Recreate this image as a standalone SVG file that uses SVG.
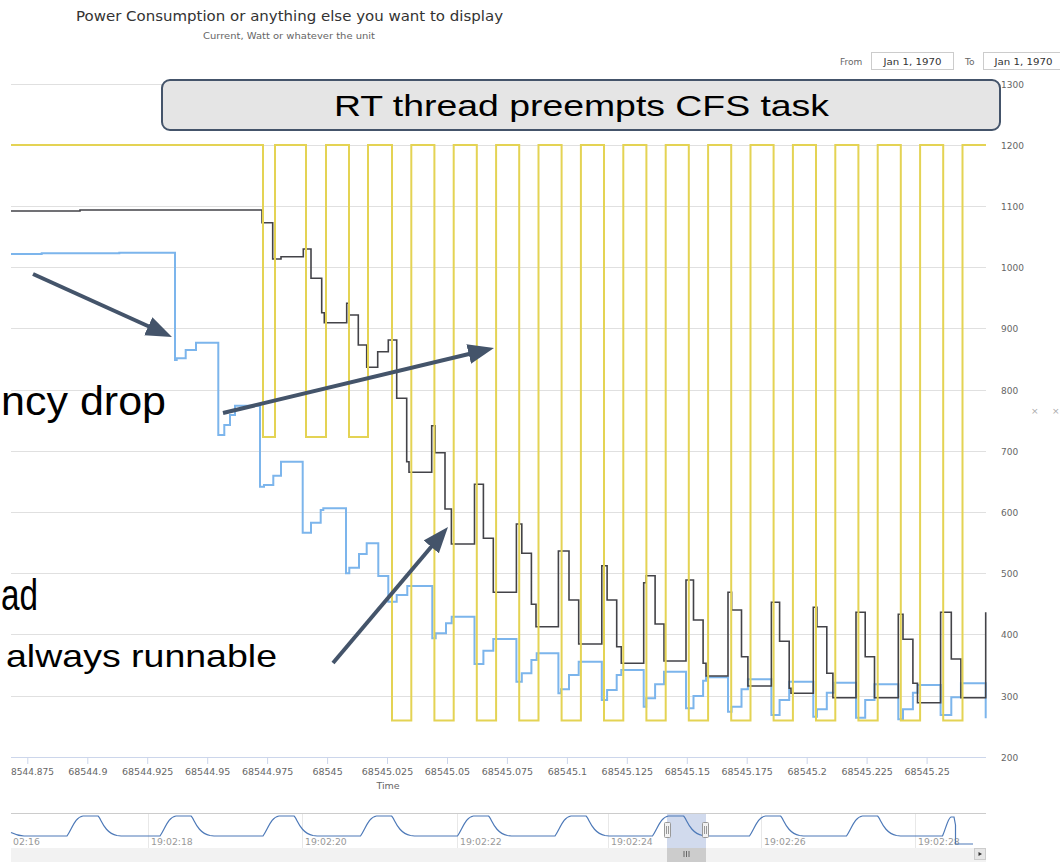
<svg xmlns="http://www.w3.org/2000/svg" width="1060" height="862" viewBox="0 0 1060 862">
  <style>
    .ui{font-family:"DejaVu Sans",Verdana,sans-serif;fill:#666}
    .title{font-size:14.5px;fill:#333}
    .subtitle{font-size:9.2px}
    .xl{font-size:9.5px;text-anchor:middle}
    .yl{font-size:9px}
    .nl{font-size:9.3px;fill:#999}
    .grid{stroke:#e0e0e0;stroke-width:1}
    .navgrid{stroke:#e8e8e8;stroke-width:1}
    .tick{stroke:#ccd6eb;stroke-width:1}
    .series{fill:none;stroke-width:2;stroke-linejoin:miter}
    .s-little{stroke:#7cb5ec}
    .s-big{stroke:#434348;stroke-width:1.6}
    .s-rt{stroke:#e4d354}
    .slide{font-family:"Liberation Sans",Arial,sans-serif;fill:#000}
    .arrow{fill:none;stroke:#44546a;stroke-width:4;marker-end:url(#head)}
    .inputbox{fill:#fff;stroke:#ccc;stroke-width:1}
    .handle{fill:#f2f2f2;stroke:#999;stroke-width:1}
  </style>
  <defs>
    <marker id="head" markerUnits="userSpaceOnUse" markerWidth="26" markerHeight="20" refX="11" refY="10" orient="auto">
      <path d="M0,0 L26,10 L0,20 z" fill="#44546a"/>
    </marker>
  </defs>

  <rect width="1060" height="862" fill="#fff"/>

  <!-- chart title -->
  <g id="title" class="ui">
    <text class="title" x="76" y="21" textLength="427" lengthAdjust="spacingAndGlyphs">Power Consumption or anything else you want to display</text>
    <text class="subtitle" x="203" y="39" textLength="172" lengthAdjust="spacingAndGlyphs">Current, Watt or whatever the unit</text>
  </g>

  <!-- range selector inputs -->
  <g id="range-selector" class="ui" font-size="9px">
    <text x="840" y="64.5">From</text>
    <rect class="inputbox" x="871.5" y="52.5" width="82" height="17"/>
    <text x="912.5" y="64.5" text-anchor="middle" textLength="58" lengthAdjust="spacingAndGlyphs" fill="#333">Jan 1, 1970</text>
    <text x="965" y="64.5">To</text>
    <rect class="inputbox" x="983.5" y="52.5" width="82" height="17"/>
    <text x="1023.5" y="64.5" text-anchor="middle" textLength="58" lengthAdjust="spacingAndGlyphs" fill="#333">Jan 1, 1970</text>
  </g>

  <!-- horizontal grid -->
  <g id="grid">
    <line class="grid" x1="11" y1="84.5" x2="986" y2="84.5"/>
    <line class="grid" x1="11" y1="145.5" x2="986" y2="145.5"/>
    <line class="grid" x1="11" y1="206.5" x2="986" y2="206.5"/>
    <line class="grid" x1="11" y1="267.5" x2="986" y2="267.5"/>
    <line class="grid" x1="11" y1="328.5" x2="986" y2="328.5"/>
    <line class="grid" x1="11" y1="390.5" x2="986" y2="390.5"/>
    <line class="grid" x1="11" y1="451.5" x2="986" y2="451.5"/>
    <line class="grid" x1="11" y1="512.5" x2="986" y2="512.5"/>
    <line class="grid" x1="11" y1="573.5" x2="986" y2="573.5"/>
    <line class="grid" x1="11" y1="634.5" x2="986" y2="634.5"/>
    <line class="grid" x1="11" y1="696.5" x2="986" y2="696.5"/>
  </g>

  <!-- value axis -->
  <g id="y-axis" class="ui yl">
    <text x="1001" y="87.5">1300</text>
    <text x="1001" y="148.5">1200</text>
    <text x="1001" y="209.5">1100</text>
    <text x="1001" y="270.5">1000</text>
    <text x="1001" y="331.5">900</text>
    <text x="1001" y="393.5">800</text>
    <text x="1001" y="454.5">700</text>
    <text x="1001" y="515.5">600</text>
    <text x="1001" y="576.5">500</text>
    <text x="1001" y="637.5">400</text>
    <text x="1001" y="699.5">300</text>
    <text x="1001" y="760.5">200</text>
    <text x="1031" y="414" fill="#aaa">×</text>
    <text x="1052" y="414" fill="#aaa">×</text>
  </g>

  <!-- time axis -->
  <g id="x-axis" class="ui">
    <line x1="11" y1="757.5" x2="986" y2="757.5" stroke="#ccd6eb"/>
    <g class="tick">
      <line x1="27.8" y1="757.5" x2="27.8" y2="764"/>
      <line x1="87.8" y1="757.5" x2="87.8" y2="764"/>
      <line x1="147.7" y1="757.5" x2="147.7" y2="764"/>
      <line x1="207.7" y1="757.5" x2="207.7" y2="764"/>
      <line x1="267.6" y1="757.5" x2="267.6" y2="764"/>
      <line x1="327.6" y1="757.5" x2="327.6" y2="764"/>
      <line x1="387.5" y1="757.5" x2="387.5" y2="764"/>
      <line x1="447.5" y1="757.5" x2="447.5" y2="764"/>
      <line x1="507.4" y1="757.5" x2="507.4" y2="764"/>
      <line x1="567.4" y1="757.5" x2="567.4" y2="764"/>
      <line x1="627.3" y1="757.5" x2="627.3" y2="764"/>
      <line x1="687.3" y1="757.5" x2="687.3" y2="764"/>
      <line x1="747.2" y1="757.5" x2="747.2" y2="764"/>
      <line x1="807.2" y1="757.5" x2="807.2" y2="764"/>
      <line x1="867.1" y1="757.5" x2="867.1" y2="764"/>
      <line x1="927.1" y1="757.5" x2="927.1" y2="764"/>
    </g>
    <text class="yl" x="11" y="775" font-size="9.5px">8544.875</text>
    <text class="xl" x="87.8" y="775">68544.9</text>
    <text class="xl" x="147.7" y="775">68544.925</text>
    <text class="xl" x="207.7" y="775">68544.95</text>
    <text class="xl" x="267.6" y="775">68544.975</text>
    <text class="xl" x="327.6" y="775">68545</text>
    <text class="xl" x="387.5" y="775">68545.025</text>
    <text class="xl" x="447.5" y="775">68545.05</text>
    <text class="xl" x="507.4" y="775">68545.075</text>
    <text class="xl" x="567.4" y="775">68545.1</text>
    <text class="xl" x="627.3" y="775">68545.125</text>
    <text class="xl" x="687.3" y="775">68545.15</text>
    <text class="xl" x="747.2" y="775">68545.175</text>
    <text class="xl" x="807.2" y="775">68545.2</text>
    <text class="xl" x="867.1" y="775">68545.225</text>
    <text class="xl" x="927.1" y="775">68545.25</text>
    <text class="xl" x="388" y="789">Time</text>
  </g>

  <!-- data series (step lines) -->
  <g id="series">
    <path class="series s-little" d="M11,254 H41.7 V253.3 H119.3 V252.7 H175 V360 H176.7 V358.3 H185.7 V350 H196 V342.7 H218.3 V435 H224.3 V425 H230 V415 H235 V405.7 H260 V486.7 H264 V485 H273.3 V475.7 H281 V461.7 H302.7 V532.7 H311 V522.7 H320.7 V510 H323.3 V508.3 H346 V573.3 H349.3 V567.7 H359 V554 H366.7 V543.3 H378.3 V576 H388.3 V601.7 H396.7 V595 H407.3 V586 H432.3 V638.3 H435.7 V633.3 H446 V623.3 H451.7 V616.7 H474.5 V664 H483.4 V650.7 H493.3 V639 H516.4 V681.7 H521.8 V673.3 H531.4 V660 H536.7 V653.3 H558.4 V693.3 H561 V689.3 H569 V675 H578.7 V661.7 H601.8 V700 H607.1 V690 H616.7 V675 H621.3 V670 H643.7 V706.7 H646.2 V698.3 H655.1 V684.3 H664 V671.7 H686 V708.3 H693.5 V696 H703.1 V680.7 H706 V677.3 H728 V711.7 H731.6 V706.7 H741.5 V689.3 H747.9 V679.3 H771.4 V715 H779.6 V700 H789.2 V681.7 H813.3 V716.7 H816.9 V709.3 H826.8 V692.7 H834.7 V682.7 H856 V717.7 H865.2 V700 H874.5 V684.3 H898.3 V719.3 H903 V709.3 H912.9 V692.7 H917.5 V685 H940.6 V715 H951.3 V697.3 H960.9 V683.3 H985.7 V718.3"/>
    <path class="series s-big" d="M11,211 H80 V210 H262 V222.7 H272.7 V259 H281 V256.7 H303.3 V249 H311 V278.3 H321.7 V312.7 H324.3 V322.7 H346.7 V303.3 H349 V315 H358.3 V345 H366.7 V367.3 H377.7 V351.7 H388.3 V340 H396.7 V398.3 H406.7 V461.7 H409 V472.3 H431.7 V425.7 H435 V452.7 H445 V509 H451.4 V544 H474.5 V484.3 H483.4 V538.3 H493.3 V592.3 H516.4 V524 H521.8 V553.3 H531.4 V604.3 H536 V626.7 H558.4 V551 H569 V600 H578.7 V644 H601.8 V565.7 H607.1 V600 H616.7 V646.7 H621.3 V663.3 H643.7 V582.7 H646.2 V575.7 H655.1 V624 H664 V661 H686 V580 H693.5 V620 H703.1 V663.3 H706 V676 H728 V592.3 H731.6 V610 H741.5 V656.7 H747.9 V686 H771.4 V602.3 H779.6 V641.3 H789.2 V688.3 H791 V693.3 H813.3 V607.3 H816.9 V626.7 H826.8 V673.3 H832.9 V697.7 H856 V612.3 H865.2 V656.7 H874.5 V697.7 H898.3 V614.3 H903 V639.3 H912.9 V683.3 H917.5 V702.7 H940.6 V612.3 H951.3 V659 H960.9 V697.7 H985.7 V612.3"/>
    <path class="series s-rt" d="M11,145 H263 V437 H275 V145 H306 V437 H326 V145 H349 V437 H368 V145 H392 V720.5 H411.3 V145 H434.4 V720.5 H453.7 V145 H476.8 V720.5 H496.1 V145 H519.2 V720.5 H538.5 V145 H561.6 V720.5 H580.9 V145 H604 V720.5 H623.3 V145 H646.4 V720.5 H665.7 V145 H688.8 V720.5 H708.1 V145 H731.2 V720.5 H750.5 V145 H773.6 V720.5 H792.9 V145 H816 V720.5 H835.3 V145 H858.4 V720.5 H877.7 V145 H900.8 V720.5 H920.1 V145 H943.2 V720.5 H962.5 V145 H986"/>
  </g>

  <!-- navigator -->
  <g id="navigator">
    <line x1="11" y1="813.5" x2="986" y2="813.5" stroke="#ccc"/>
    <g class="navgrid">
      <line x1="148.5" y1="814" x2="148.5" y2="848"/>
      <line x1="302.5" y1="814" x2="302.5" y2="848"/>
      <line x1="457.5" y1="814" x2="457.5" y2="848"/>
      <line x1="608.5" y1="814" x2="608.5" y2="848"/>
      <line x1="761.5" y1="814" x2="761.5" y2="848"/>
      <line x1="915.5" y1="814" x2="915.5" y2="848"/>
    </g>
    <g class="ui nl">
      <text x="13" y="844.5">02:16</text>
      <text x="151" y="844.5">19:02:18</text>
      <text x="305" y="844.5">19:02:20</text>
      <text x="460" y="844.5">19:02:22</text>
      <text x="611" y="844.5">19:02:24</text>
      <text x="764" y="844.5">19:02:26</text>
      <text x="918" y="844.5">19:02:28</text>
    </g>
    <rect x="667" y="814" width="39" height="34" fill="#6685c2" fill-opacity="0.3"/>
    <path fill="none" stroke="#4d79b8" stroke-width="1.2" d="M11,832.5 C15,834.5 18,835.7 24,836 H67 C72,829 75,817 83,816 H98 C101,818 104,833 117,835.5 L121,836 H160 C165,829 168,817 176,816 H191 C194,818 197,833 210,835.5 L214,836 H263 C268,829 271,817 279,816 H294 C297,818 300,833 313,835.5 L317,836 H360.5 C365.5,829 368.5,817 376.5,816 H391.5 C394.5,818 397.5,833 410.5,835.5 L414.5,836 H457.5 C462.5,829 465.5,817 473.5,816 H488.5 C491.5,818 494.5,833 507.5,835.5 L511.5,836 H555 C560,829 563,817 571,816 H586 C589,818 592,833 605,835.5 L609,836 H652.5 C657.5,829 660.5,817 668.5,816 H683.5 C686.5,818 689.5,833 702.5,835.5 L706.5,836 H749.5 C754.5,829 757.5,817 765.5,816 H780.5 C783.5,818 786.5,833 799.5,835.5 L803.5,836 H846.5 C851.5,829 854.5,817 862.5,816 H877.5 C880.5,818 883.5,833 896.5,835.5 L900.5,836 H942.5 C946,828 948,818 951,817 L954,817 L955.5,825 V844 H973"/>
    <rect class="handle" x="664.5" y="822.5" width="6" height="15" rx="1"/>
    <line x1="666.5" y1="826" x2="666.5" y2="834" stroke="#999"/>
    <line x1="668.5" y1="826" x2="668.5" y2="834" stroke="#999"/>
    <rect class="handle" x="702.5" y="822.5" width="6" height="15" rx="1"/>
    <line x1="704.5" y1="826" x2="704.5" y2="834" stroke="#999"/>
    <line x1="706.5" y1="826" x2="706.5" y2="834" stroke="#999"/>
  </g>

  <!-- scrollbar -->
  <g id="scrollbar">
    <rect x="11" y="848" width="975" height="14" fill="#f2f2f2"/>
    <rect x="667" y="848" width="39" height="14" fill="#cccccc"/>
    <line x1="684" y1="851" x2="684" y2="857" stroke="#666"/>
    <line x1="686.5" y1="851" x2="686.5" y2="857" stroke="#666"/>
    <line x1="689" y1="851" x2="689" y2="857" stroke="#666"/>
    <rect x="974.5" y="848.5" width="11" height="11" fill="#e6e6e6" stroke="#ccc"/>
    <path d="M978.5,852 L982,854 L978.5,856 z" fill="#333"/>
  </g>

  <!-- annotation callout -->
  <g id="callout">
    <rect x="162" y="80" width="838" height="50" rx="8" fill="#e5e5e5" stroke="#44546a" stroke-width="2"/>
    <text class="slide" x="334" y="116" font-size="30px" textLength="495" lengthAdjust="spacingAndGlyphs">RT thread preempts CFS task</text>
  </g>

  <!-- slide captions -->
  <g id="captions" class="slide">
    <text x="1" y="415" font-size="40px" textLength="165" lengthAdjust="spacingAndGlyphs">ncy drop</text>
    <text x="1" y="610" font-size="44px" textLength="37" lengthAdjust="spacingAndGlyphs">ad</text>
    <text x="6" y="667" font-size="32px" textLength="271" lengthAdjust="spacingAndGlyphs">always runnable</text>
  </g>

  <!-- pointer arrows -->
  <g id="connectors">
    <line class="arrow" x1="33" y1="274" x2="158.3" y2="330.8"/>
    <line class="arrow" x1="223" y1="413" x2="479.4" y2="351.5"/>
    <line class="arrow" x1="333" y1="663" x2="438.3" y2="538.5"/>
  </g>
</svg>
